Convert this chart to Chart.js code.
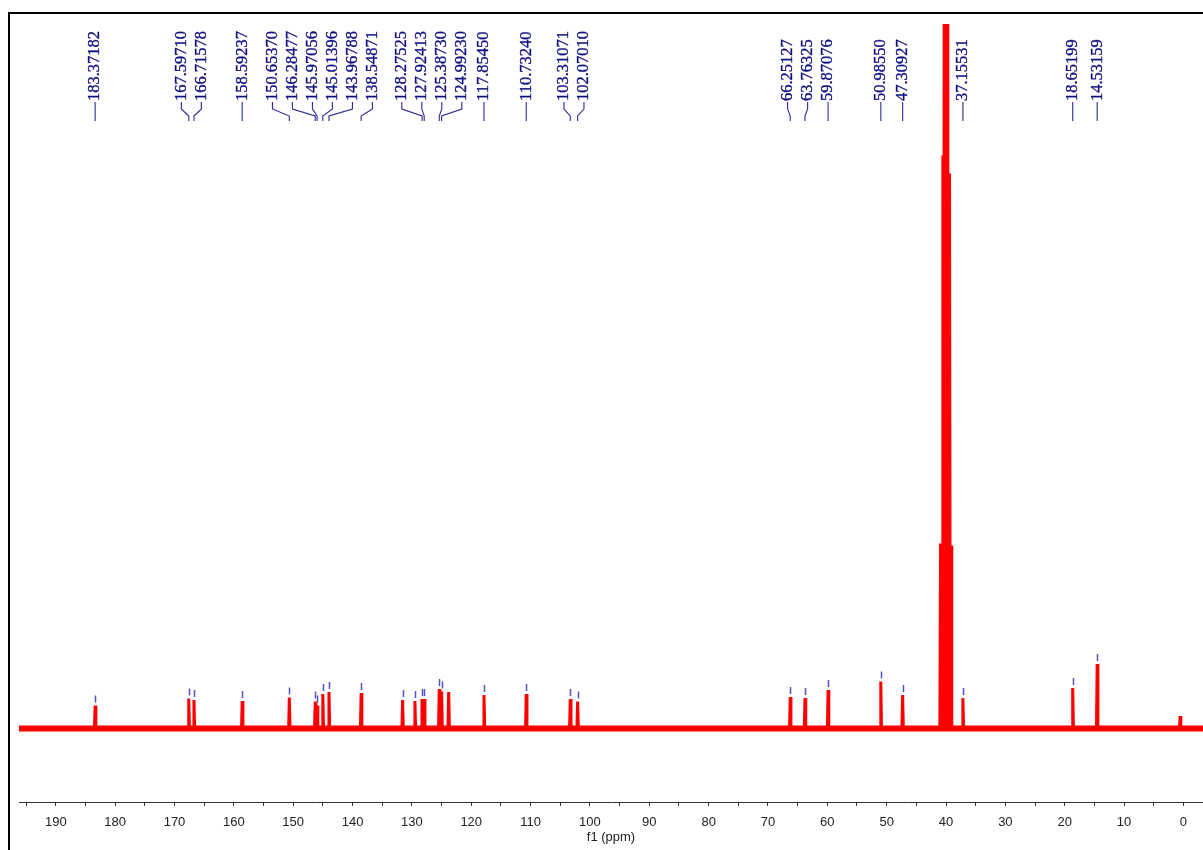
<!DOCTYPE html>
<html>
<head>
<meta charset="utf-8">
<script src="https://cdn.jsdelivr.net/npm/chart.js@4.4.1/dist/chart.umd.min.js"></script>
<style>
  html, body { margin: 0; padding: 0; background: #fff; }
  #wrap { width: 1203px; height: 850px; position: relative; }
</style>
</head>
<body>
<div id="wrap"><canvas id="nmr"></canvas></div>
<script>
// ─── Data ─────────────────────────────────────────────────────────
// peak positions (ppm, descending) and heights above the baseline
const peakPpm = [
  183.37, 167.60, 166.72, 158.59, 150.65, 146.28, 145.97, 145.01, 143.97, 138.55,
  131.56, 129.49, 128.30, 127.92, 125.39, 124.99, 123.80, 117.85, 110.73, 103.31, 102.07,
  66.25, 63.76, 59.87, 50.99, 47.31,
  40.92, 40.53, 40.25, 40.00, 39.75, 39.41, 39.15,      // solvent multiplet
  37.16, 18.65, 14.53, 0.55
];
const peakHeight = [
  23, 30, 28.5, 27.5, 31, 27, 23, 34.5, 36.5, 35.5,
  28.5, 27.5, 29.5, 29.5, 39.5, 37, 36.5, 33.5, 34.5, 29.5, 27,
  31.5, 30.5, 38.5, 47, 33.5,
  185, 573, 1150, 1340, 1150, 555, 183,
  30.5, 40.5, 64.5, 12.5
];
// peaks carrying a peak-pick marker
const pickedPpm = [
  183.37, 167.60, 166.72, 158.59, 150.65, 146.28, 145.97, 145.01, 143.97, 138.55,
  131.56, 129.49, 128.30, 127.92, 125.39, 124.99, 117.85, 110.73, 103.31, 102.07,
  66.25, 63.76, 59.87, 50.99, 47.31, 37.16, 18.65, 14.53
];
// peak labels along the top
const labelPpm = [
  '183.37182', '167.59710', '166.71578', '158.59237', '150.65370', '146.28477',
  '145.97056', '145.01396', '143.96788', '138.54871', '128.27525', '127.92413',
  '125.38730', '124.99230', '117.85450', '110.73240', '103.31071', '102.07010',
  '66.25127', '63.76325', '59.87076', '50.98550', '47.30927', '37.15531',
  '18.65199', '14.53159'
];
const tickLabels = [190, 180, 170, 160, 150, 140, 130, 120, 110, 100, 90, 80, 70, 60, 50, 40, 30, 20, 10, 0];

const PPM_MIN = -3.3, PPM_MAX = 196.2;
const Y_MIN = -73.5, Y_MAX = 704.5;
const PEAK_HW = 0.12;

// ─── Build the trace ──────────────────────────────────────────────
const spectrum = [{ x: PPM_MAX, y: 0 }];
peakPpm.forEach((p, i) => {
  spectrum.push({ x: p + PEAK_HW, y: 0 }, { x: p, y: peakHeight[i] }, { x: p - PEAK_HW, y: 0 });
});
spectrum.push({ x: PPM_MIN, y: 0 });

// spread overlapping labels into evenly spaced clusters
function spreadLabels(xs, gap) {
  let groups = xs.map(x => ({ xs: [x], start: x }));
  let merged = true;
  while (merged) {
    merged = false;
    groups.forEach(g => {
      const mean = g.xs.reduce((s, v) => s + v, 0) / g.xs.length;
      g.start = mean - (g.xs.length - 1) * gap / 2;
    });
    for (let i = 0; i < groups.length - 1; i++) {
      const a = groups[i], b = groups[i + 1];
      if (a.start + a.xs.length * gap > b.start) {
        a.xs = a.xs.concat(b.xs);
        groups.splice(i + 1, 1);
        merged = true;
        break;
      }
    }
  }
  const out = [];
  groups.forEach(g => g.xs.forEach((_, k) => out.push(g.start + k * gap)));
  return out;
}

const annotate = {
  id: 'annotate',
  afterDatasetsDraw(chart) {
    const { ctx, scales: { x, y } } = chart;
    ctx.save();

    // peak-pick markers
    ctx.strokeStyle = '#5252c4';
    ctx.lineWidth = 1.5;
    pickedPpm.forEach(p => {
      const i = peakPpm.indexOf(p);
      const px = Math.round(x.getPixelForValue(p)) + 0.5;
      const top = y.getPixelForValue(peakHeight[i]);
      ctx.beginPath();
      ctx.moveTo(px, top - 3);
      ctx.lineTo(px, top - 10);
      ctx.stroke();
    });

    // labels + connectors
    const want = labelPpm.map(s => x.getPixelForValue(parseFloat(s)));
    const at = spreadLabels(want, 20);
    ctx.strokeStyle = '#2a2a96';
    ctx.fillStyle = '#0f0f80';
    ctx.lineWidth = 1.1;
    ctx.font = "16.5px 'Liberation Serif', 'Times New Roman', serif";
    labelPpm.forEach((s, i) => {
      const lx = at[i], px = want[i];
      ctx.save();
      ctx.translate(lx, 101);
      ctx.rotate(-Math.PI / 2);
      ctx.textAlign = 'left';
      ctx.textBaseline = 'middle';
      ctx.fillText(s, 0, 0);
      ctx.lineWidth = 0.35;
      ctx.strokeStyle = '#0f0f80';
      ctx.strokeText(s, 0, 0);
      ctx.restore();
      ctx.beginPath();
      ctx.moveTo(lx, 102);
      ctx.lineTo(lx, 109);
      ctx.lineTo(px, 116);
      ctx.lineTo(px, 121);
      ctx.stroke();
    });

    // outer frame
    ctx.strokeStyle = '#000';
    ctx.lineWidth = 2;
    ctx.beginPath();
    ctx.moveTo(9, 851);
    ctx.lineTo(9, 13);
    ctx.lineTo(1204, 13);
    ctx.stroke();
    ctx.restore();
  }
};

new Chart(document.getElementById('nmr'), {
  type: 'scatter',
  data: {
    datasets: [
      {
        label: 'noise',
        data: [{ x: PPM_MAX, y: 0 }, { x: PPM_MIN, y: 0 }],
        showLine: true,
        borderColor: '#ff0000',
        borderWidth: 6,
        pointRadius: 0,
      },
      {
        label: 'f1',
        data: spectrum,
        showLine: true,
        borderColor: '#ff0000',
        borderWidth: 3,
        borderJoinStyle: 'bevel',
        pointRadius: 0,
      }
    ]
  },
  options: {
    responsive: true,
    maintainAspectRatio: false,
    animation: false,
    layout: { padding: { left: 19, top: 24, right: 0, bottom: 0 } },
    plugins: {
      legend: { display: false },
      tooltip: { enabled: false },
    },
    scales: {
      x: {
        type: 'linear',
        reverse: true,
        min: PPM_MIN,
        max: PPM_MAX,
        afterFit: s => { s.height = 48; },
        border: { display: true, color: '#333', width: 1 },
        grid: { display: true, drawOnChartArea: false, drawTicks: true, tickLength: 4, color: '#333' },
        ticks: {
          stepSize: 5,
          includeBounds: false,
          autoSkip: false,
          maxRotation: 0,
          padding: 9,
          color: '#222',
          font: { family: "'Liberation Sans', Arial, sans-serif", size: 13 },
          callback: v => tickLabels.includes(v) ? String(v) : '',
        },
        title: {
          display: true,
          text: 'f1 (ppm)',
          color: '#222',
          font: { family: "'Liberation Sans', Arial, sans-serif", size: 13 },
          padding: { top: 0, bottom: 5 },
        }
      },
      y: {
        display: false,
        min: Y_MIN,
        max: Y_MAX,
      }
    }
  },
  plugins: [annotate]
});
</script>
</body>
</html>
